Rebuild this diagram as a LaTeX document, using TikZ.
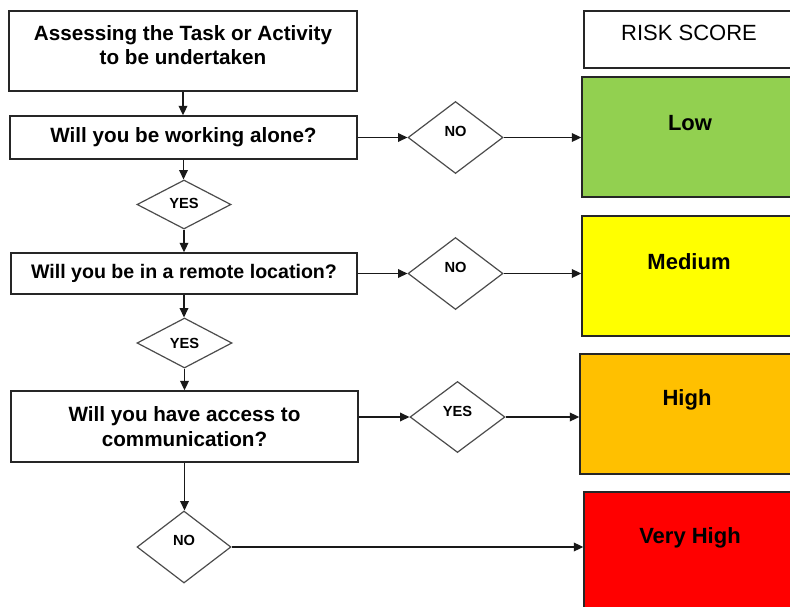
\documentclass[tikz,border=0pt]{standalone}
\usepackage{fontspec}
\setmainfont{Liberation Sans}
\usetikzlibrary{shapes.geometric,arrows.meta}
\definecolor{lowc}{HTML}{92D050}
\definecolor{medc}{HTML}{FFFF00}
\definecolor{highc}{HTML}{FFC000}
\definecolor{vhighc}{HTML}{FF0000}
\begin{document}
\begin{tikzpicture}[x=0.75pt,y=-0.75pt,
  qbox/.style={draw=black!85,line width=1.2pt,rectangle,inner sep=0pt,align=center,
    font=\fontsize{15.5}{18.5}\selectfont\bfseries},
  rbox/.style={draw=black!85,line width=1.2pt,rectangle,inner sep=0pt},
  rtext/.style={inner sep=0pt,font=\fontsize{16.5}{20}\selectfont\bfseries},
  dec/.style={draw=black!70,line width=0.9pt,diamond,inner sep=0pt,aspect=1},
  dlab/.style={inner sep=0pt,font=\fontsize{11}{13}\selectfont\bfseries},
  arr/.style={draw=black!90,line width=1.05pt,-{Triangle[length=7pt,width=6.5pt]}}]
\clip (0,0) rectangle (790,607);
\fill[white] (0,0) rectangle (790,607);
% left column
\node[qbox,minimum width=261pt,minimum height=60pt] (b1) at (183,51) {};
\node[inner sep=0pt,align=center,font=\fontsize{15.5}{18.5}\selectfont\bfseries] (t1) at (183,45) {Assessing the Task or Activity\\to be undertaken};
\node[qbox,minimum width=260.25pt,minimum height=32.25pt] (b2) at (183.5,137.5) {Will you be working alone?};
\node[dec,minimum width=70.5pt,minimum height=36.75pt,label={[dlab,yshift=0.8pt]center:YES}] (y1) at (184,204.5) {};
\node[qbox,minimum width=259.5pt,minimum height=30.75pt,font=\fontsize{14.7}{18}\selectfont\bfseries] (b3) at (184,273.5) {Will you be in a remote location?};
\node[dec,minimum width=71.25pt,minimum height=37.5pt,label={[dlab]center:YES}] (y2) at (184.5,343) {};
\node[qbox,minimum width=260.25pt,minimum height=53.25pt] (b4) at (184.5,426.5) {Will you have access to\\communication?};
\node[dec,minimum width=70.5pt,minimum height=54pt,label={[dlab,yshift=5pt]center:NO}] (nd) at (184,547) {};
% middle diamonds
\node[dec,minimum width=71.25pt,minimum height=54pt,label={[dlab,yshift=4.5pt]center:NO}] (n1) at (455.5,137.5) {};
\node[dec,minimum width=71.25pt,minimum height=54pt,label={[dlab,yshift=4.5pt]center:NO}] (n2) at (455.5,273.5) {};
\node[dec,minimum width=71.25pt,minimum height=53.25pt,label={[dlab,yshift=4.5pt]center:YES}] (y3) at (457.5,417) {};
% right column
\node[rbox,minimum width=158.25pt,minimum height=42.75pt] (rs) at (689.5,39.5) {};
\node[inner sep=0pt,font=\fontsize{16.5}{20}\selectfont] (rst) at (689,33) {RISK SCORE};
\node[rbox,fill=lowc,minimum width=162pt,minimum height=90pt] (low) at (690,137) {};
\node[rtext] (lowt) at (690,123) {Low};
\node[rbox,fill=medc,minimum width=162pt,minimum height=90pt] (med) at (690,276) {};
\node[rtext] (medt) at (689,262) {Medium};
\node[rbox,fill=highc,minimum width=163.5pt,minimum height=90pt] (high) at (689,414) {};
\node[rtext] (hight) at (687,400) {High};
\node[rbox,fill=vhighc,minimum width=160.5pt,minimum height=96pt] (vh) at (691,556) {};
\node[rtext] (vht) at (690,538) {Very High};
% vertical connectors
\draw[arr] (b1.south) -- (b1.south |- b2.north);
\draw[arr] (b2.south) -- (b2.south |- y1.north);
\draw[arr] (y1.south) -- (y1.south |- b3.north);
\draw[arr] (b3.south) -- (b3.south |- y2.north);
\draw[arr] (y2.south) -- (y2.south |- b4.north);
\draw[arr] (b4.south) -- (b4.south |- nd.north);
% horizontal connectors
\draw[arr] (b2.east) -- (n1.west);
\draw[arr] (n1.east) -- (n1.east -| low.west);
\draw[arr] (b3.east) -- (n2.west);
\draw[arr] (n2.east) -- (n2.east -| med.west);
\draw[arr] (b4.east |- y3.west) -- (y3.west);
\draw[arr] (y3.east) -- (y3.east -| high.west);
\draw[arr] (nd.east) -- (nd.east -| vh.west);
\end{tikzpicture}
\end{document}
